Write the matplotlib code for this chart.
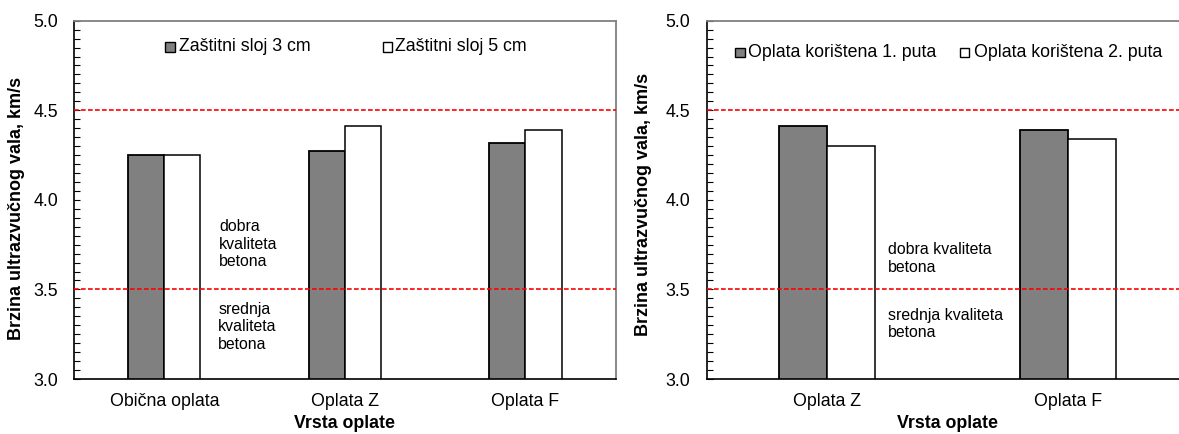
import matplotlib
matplotlib.use('Agg')
import matplotlib.pyplot as plt
from matplotlib.patches import Rectangle
from matplotlib.ticker import MultipleLocator
import numpy as np

plt.rcParams['font.family'] = ['Liberation Sans', 'DejaVu Sans']

# ---- data ----
left_categories = ['Obična oplata', 'Oplata Z', 'Oplata F']
left_series_names = ['Zaštitni sloj 3 cm', 'Zaštitni sloj 5 cm']
left_3cm = [4.25, 4.27, 4.32]
left_5cm = [4.25, 4.41, 4.39]

right_categories = ['Oplata Z', 'Oplata F']
right_series_names = ['Oplata korištena 1. puta', 'Oplata korištena 2. puta']
right_first = [4.41, 4.39]
right_second = [4.30, 4.34]

thresholds = [3.5, 4.5]
y_ticks = [3.0, 3.5, 4.0, 4.5, 5.0]
y_tick_labels = ['3.0', '3.5', '4.0', '4.5', '5.0']
y_label = 'Brzina ultrazvučnog vala, km/s'
x_label = 'Vrsta oplate'

W, H = 1179, 434
FS = 12.8      # ticks, legend, category labels, axis titles
FA = 11.4      # in-plot annotations
GRAY = '#808080'

fig = plt.figure(figsize=(W / 100, H / 100), dpi=100)


def style_axes(ax, cats, tickpad):
    ax.set_ylim(3.0, 5.0)
    ax.set_xlim(-0.5, len(cats) - 0.5)
    ax.set_yticks(y_ticks)
    ax.set_yticklabels(y_tick_labels)
    ax.yaxis.set_minor_locator(MultipleLocator(0.05))
    ax.tick_params(axis='y', which='both', direction='in', length=4, width=0.8,
                   labelsize=FS, pad=tickpad, right=False)
    ax.set_xticks(np.arange(len(cats)))
    ax.set_xticklabels(cats)
    ax.tick_params(axis='x', which='both', length=0, labelsize=FS, pad=10)
    for s in ['left', 'bottom']:
        ax.spines[s].set_color('black')
        ax.spines[s].set_linewidth(1.2)
    for s in ['top', 'right']:
        ax.spines[s].set_color(GRAY)
        ax.spines[s].set_linewidth(1.3)
    for t in thresholds:
        ax.axhline(t, color='#ff0000', lw=1.2, linestyle=(0, (2.8, 1.4)), zorder=3)


def bars(ax, cats, a, b):
    x = np.arange(len(cats))
    ax.bar(x - 0.1, a, width=0.2, bottom=0, color=GRAY, edgecolor='black',
           linewidth=1.3, zorder=2)
    ax.bar(x + 0.1, b, width=0.2, bottom=0, color='white', edgecolor='black',
           linewidth=1.1, zorder=2)


def legend_item(ax, xs, xt, yc, face, label):
    sw = 9.5 / ax.bbox.width
    sh = 9.5 / ax.bbox.height
    ax.add_patch(Rectangle((xs, yc - sh / 2), sw, sh, transform=ax.transAxes,
                           facecolor=face, edgecolor='black', linewidth=1.0,
                           clip_on=False, zorder=5))
    ax.text(xt, yc, label, transform=ax.transAxes, ha='left', va='center',
            fontsize=FS, zorder=5)


# ---- left chart ----
ax1 = fig.add_axes([74 / W, (H - 379) / H, 541.7 / W, 358.3 / H])
bars(ax1, left_categories, left_3cm, left_5cm)
style_axes(ax1, left_categories, 11.5)
legend_item(ax1, 0.1685, 0.1933, 0.927, GRAY, left_series_names[0])
legend_item(ax1, 0.5699, 0.5931, 0.927, 'white', left_series_names[1])
ax1.text(0.303, 3.892, 'dobra\nkvaliteta\nbetona', ha='left', va='top',
         fontsize=FA, linespacing=1.2)
ax1.text(0.299, 3.431, 'srednja\nkvaliteta\nbetona', ha='left', va='top',
         fontsize=FA, linespacing=1.2)
ax1.set_ylabel(y_label, fontsize=13, fontweight='bold')
ax1.yaxis.set_label_coords(-0.0905, 0.476)
ax1.set_xlabel(x_label, fontsize=FS, fontweight='bold')
ax1.xaxis.set_label_coords(0.5, -0.1005)

# ---- right chart ----
ax2 = fig.add_axes([706.7 / W, (H - 379) / H, 481.4 / W, 358.3 / H])
bars(ax2, right_categories, right_first, right_second)
style_axes(ax2, right_categories, 12.0)
legend_item(ax2, 0.0588, 0.0858, 0.911, GRAY, right_series_names[0])
legend_item(ax2, 0.526, 0.555, 0.911, 'white', right_series_names[1])
ax2.text(0.252, 3.764, 'dobra kvaliteta\nbetona', ha='left', va='top',
         fontsize=FA, linespacing=1.2)
ax2.text(0.252, 3.398, 'srednja kvaliteta\nbetona', ha='left', va='top',
         fontsize=FA, linespacing=1.2)
ax2.set_ylabel(y_label, fontsize=13, fontweight='bold')
ax2.yaxis.set_label_coords(-0.1136, 0.488)
ax2.set_xlabel(x_label, fontsize=FS, fontweight='bold')
ax2.xaxis.set_label_coords(0.5, -0.1005)

fig.savefig('out.png', dpi=100)
